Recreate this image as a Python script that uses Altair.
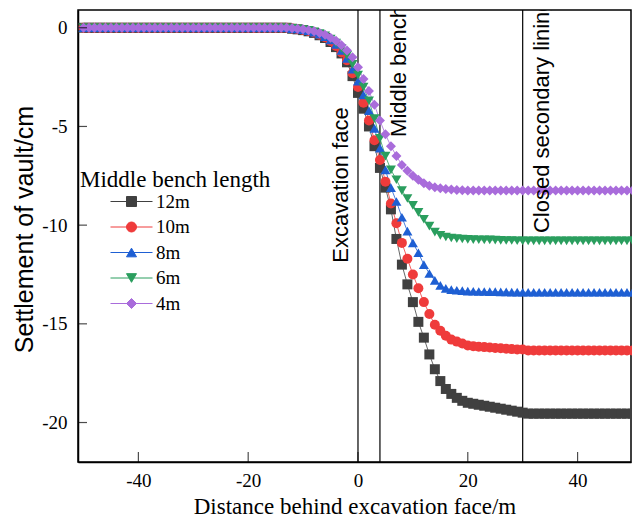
import altair as alt
import pandas as pd

# ---------------- data ----------------
distance = list(range(-50, 51))  # distance behind excavation face (m), 1 m step
series_names = ["12m", "10m", "8m", "6m", "4m"]
series_colors = ["#404040", "#EF3B3B", "#1E5FD3", "#2A9E5E", "#A96CDB"]
series_shapes = ["square", "circle", "triangle-up", "triangle-down", "diamond"]
# legend glyphs: same marker with a short line through it (unit-box SVG paths)
legend_glyphs = [
    "M-4.2,0H4.2M-1,-1H1V1H-1Z",
    "M-4.2,0H4.2M1,0A1,1,0,1,1,-1,0A1,1,0,1,1,1,0Z",
    "M-4.2,0H4.2M0,-0.866L1,0.866H-1Z",
    "M-4.2,0H4.2M0,0.866L1,-0.866H-1Z",
    "M-4.2,0H4.2M-1,0L0,-1L1,0L0,1Z",
]

s12 = [0, 0, 0, 0, 0, 0, 0, 0, 0, 0, 0, 0, 0, 0, 0, 0, 0, 0, 0, 0,
       0, 0, 0, 0, 0, 0, 0, 0, 0, 0, 0, 0, 0, 0, 0, 0, 0, 0,
       -0.05, -0.08, -0.12, -0.18, -0.26, -0.38, -0.52, -0.72, -0.98, -1.3, -1.75, -2.45,
       -3.3, -4.1, -5.0, -6.0, -7.1, -8.1, -9.2, -10.7, -12.0, -13.0, -13.9, -14.9,
       -15.7, -16.55, -17.3, -17.9, -18.3, -18.55, -18.75, -18.9, -19.0, -19.05, -19.1,
       -19.15, -19.2, -19.25, -19.3, -19.35, -19.4, -19.45, -19.5,
       -19.55, -19.55, -19.55, -19.55, -19.55, -19.55, -19.55, -19.55, -19.55, -19.55,
       -19.55, -19.55, -19.55, -19.55, -19.55, -19.55, -19.55, -19.55, -19.55, -19.55]

s10 = [0, 0, 0, 0, 0, 0, 0, 0, 0, 0, 0, 0, 0, 0, 0, 0, 0, 0, 0, 0,
       0, 0, 0, 0, 0, 0, 0, 0, 0, 0, 0, 0, 0, 0, 0, 0, 0, 0,
       -0.04, -0.07, -0.11, -0.16, -0.24, -0.35, -0.48, -0.67, -0.92, -1.25, -1.65, -2.3,
       -3.0, -3.8, -4.7, -5.7, -6.7, -7.8, -8.9, -9.9, -10.9, -11.7, -12.5, -13.2,
       -13.9, -14.5, -15.05, -15.35, -15.6, -15.8, -15.9, -16.0, -16.1, -16.13, -16.16,
       -16.18, -16.2, -16.22, -16.24, -16.26, -16.28, -16.3, -16.3,
       -16.35, -16.35, -16.35, -16.35, -16.35, -16.35, -16.35, -16.35, -16.35, -16.35,
       -16.35, -16.35, -16.35, -16.35, -16.35, -16.35, -16.35, -16.35, -16.35, -16.35]

s8 = [0, 0, 0, 0, 0, 0, 0, 0, 0, 0, 0, 0, 0, 0, 0, 0, 0, 0, 0, 0,
      0, 0, 0, 0, 0, 0, 0, 0, 0, 0, 0, 0, 0, 0, 0, 0, 0, 0,
      -0.04, -0.06, -0.1, -0.15, -0.22, -0.32, -0.45, -0.62, -0.85, -1.15, -1.55, -2.1,
      -2.7, -3.4, -4.2, -5.1, -6.1, -7.2, -8.1, -8.8, -9.6, -10.3, -10.9, -11.4,
      -12.0, -12.45, -12.8, -13.05, -13.2, -13.27, -13.3, -13.32, -13.34, -13.35, -13.36,
      -13.36, -13.37, -13.37, -13.38, -13.38, -13.39, -13.39, -13.4,
      -13.4, -13.4, -13.4, -13.4, -13.4, -13.4, -13.4, -13.4, -13.4, -13.4,
      -13.4, -13.4, -13.4, -13.4, -13.4, -13.4, -13.4, -13.4, -13.4, -13.4]

s6 = [0, 0, 0, 0, 0, 0, 0, 0, 0, 0, 0, 0, 0, 0, 0, 0, 0, 0, 0, 0,
      0, 0, 0, 0, 0, 0, 0, 0, 0, 0, 0, 0, 0, 0, 0, 0, 0, 0,
      -0.03, -0.05, -0.09, -0.13, -0.2, -0.29, -0.41, -0.57, -0.78, -1.05, -1.4, -1.85,
      -2.4, -3.0, -3.7, -4.6, -5.6, -6.5, -7.2, -7.7, -8.25, -8.65, -9.0, -9.35,
      -9.7, -10.05, -10.35, -10.52, -10.6, -10.65, -10.68, -10.7, -10.72, -10.73, -10.74,
      -10.75, -10.75, -10.76, -10.77, -10.78, -10.78, -10.79, -10.8,
      -10.8, -10.8, -10.8, -10.8, -10.8, -10.8, -10.8, -10.8, -10.8, -10.8,
      -10.8, -10.8, -10.8, -10.8, -10.8, -10.8, -10.8, -10.8, -10.8, -10.8]

s4 = [0, 0, 0, 0, 0, 0, 0, 0, 0, 0, 0, 0, 0, 0, 0, 0, 0, 0, 0, 0,
      0, 0, 0, 0, 0, 0, 0, 0, 0, 0, 0, 0, 0, 0, 0, 0, 0, 0,
      -0.03, -0.05, -0.08, -0.12, -0.18, -0.26, -0.36, -0.5, -0.66, -0.88, -1.15, -1.5,
      -2.0, -2.6, -3.2, -3.9, -4.7, -5.4, -6.0, -6.5, -6.95, -7.25, -7.5, -7.7,
      -7.88, -8.0, -8.08, -8.13, -8.17, -8.2, -8.22, -8.23, -8.24, -8.25, -8.25,
      -8.25, -8.25, -8.25, -8.25, -8.25, -8.25, -8.25, -8.25,
      -8.25, -8.25, -8.25, -8.25, -8.25, -8.25, -8.25, -8.25, -8.25, -8.25,
      -8.25, -8.25, -8.25, -8.25, -8.25, -8.25, -8.25, -8.25, -8.25, -8.25]

x_tick_values = [-40, -20, 0, 20, 40]
y_tick_values = [0, -5, -10, -15, -20]
x_domain = [-51, 49.73]
y_domain = [-22, 0.9]

marker_lines = [0, 4, 30]
left_notes = pd.DataFrame({"x": [0], "y": [-11.9], "label": ["Excavation face"]})
right_notes = pd.DataFrame({"x": [4, 30], "y": [-5.53, -10.4],
                            "label": ["Middle bench", "Closed secondary lining"]})

# ---------------- build table ----------------
rows = []
for name, vals in zip(series_names, [s12, s10, s8, s6, s4]):
    for d, v in zip(distance, vals):
        rows.append({"x": d, "y": v, "series": name})
df = pd.DataFrame(rows)

SERIF = "Liberation Serif"
SANS = "Liberation Sans"

x_scale = alt.Scale(domain=x_domain, nice=False, zero=False)
y_scale = alt.Scale(domain=y_domain, nice=False, zero=False)

x_axis = alt.Axis(values=x_tick_values, title="Distance behind excavation face/m",
                  grid=False, ticks=False, tickSize=0, labelPadding=9,
                  labelFont=SERIF, labelFontSize=19, labelColor="black",
                  labelExpr="'' + datum.value",
                  titleFont=SERIF, titleFontSize=23, titleFontWeight="normal",
                  titleColor="black", titleBaseline="alphabetic", titleY=51,
                  domainColor="black", domainWidth=1.5)
y_axis = alt.Axis(values=y_tick_values, title="Settlement of vault/cm",
                  grid=False, ticks=False, tickSize=0, labelPadding=11,
                  labelFont=SERIF, labelFontSize=19, labelColor="black",
                  labelExpr="'' + datum.value",
                  titleFont=SANS, titleFontSize=25, titleFontWeight="normal",
                  titleColor="black", titleAngle=270, titleBaseline="alphabetic",
                  titleX=-46, titleY=219, titleAlign="center",
                  domainColor="black", domainWidth=1.5)

legend = alt.Legend(title="Middle bench length", orient="none", legendX=2, legendY=159,
                    titleFont=SERIF, titleFontSize=23, titleFontWeight="normal",
                    titleColor="black", titlePadding=0, titleLimit=400,
                    labelFont=SERIF, labelFontSize=19, labelColor="black",
                    symbolOffset=42, labelOffset=15, rowPadding=5.5,
                    symbolSize=100, symbolStrokeWidth=1, symbolOpacity=1, padding=0)

X = alt.X("x:Q", scale=x_scale, axis=x_axis)
Y = alt.Y("y:Q", scale=y_scale, axis=y_axis)

vlines = alt.Chart(pd.DataFrame({"x": marker_lines})).mark_rule(
    color="black", strokeWidth=1.2
).encode(x=X)

# thin connecting lines, one layer per series (fixed colour, no legend)
line_layers = []
for name, col in zip(series_names, series_colors):
    line_layers.append(
        alt.Chart(df).transform_filter(alt.datum.series == name)
        .mark_line(strokeWidth=1, opacity=0.8, color=col, clip=True)
        .encode(x=X, y=Y)
    )

points = alt.Chart(df).mark_point(filled=True, size=100, opacity=1).encode(
    x=X, y=Y,
    color=alt.Color("series:N", scale=alt.Scale(domain=series_names, range=series_colors),
                    legend=None),
    shape=alt.Shape("series:N", scale=alt.Scale(domain=series_names, range=series_shapes),
                    legend=None),
)

# legend-only layer (no rows drawn): marker with a line through it, as in the reference
legend_layer = alt.Chart(df).transform_filter("false").mark_point(
    filled=True, size=100, opacity=1
).encode(
    x=X, y=Y,
    fill=alt.Fill("series:N", scale=alt.Scale(domain=series_names, range=series_colors),
                  legend=legend),
    stroke=alt.Stroke("series:N", scale=alt.Scale(domain=series_names, range=series_colors),
                      legend=legend),
    shape=alt.Shape("series:N", scale=alt.Scale(domain=series_names, range=legend_glyphs),
                    legend=legend),
)

xticks = alt.Chart(pd.DataFrame({"x": x_tick_values})).mark_tick(
    clip=True, orient="vertical", size=20, thickness=1.2, color="black"
).encode(x=X, y=alt.YDatum(datum=y_domain[0], scale=y_scale, axis=y_axis))

yticks = alt.Chart(pd.DataFrame({"y": y_tick_values})).mark_tick(
    clip=True, orient="horizontal", size=18, thickness=1.2, color="black"
).encode(y=Y, x=alt.XDatum(datum=x_domain[0], scale=x_scale, axis=x_axis))

notes_left = alt.Chart(left_notes).mark_text(
    angle=270, align="left", baseline="alphabetic", dy=-10,
    font=SANS, fontSize=22, color="black", clip=True
).encode(x=X, y=Y, text="label:N")

notes_right = alt.Chart(right_notes).mark_text(
    angle=270, align="left", baseline="top", dy=9,
    font=SANS, fontSize=22, color="black", clip=True
).encode(x=X, y=Y, text="label:N")

chart = alt.layer(
    vlines, *line_layers, points, legend_layer, xticks, yticks, notes_left, notes_right
).resolve_scale(
    color="independent", shape="independent", fill="independent", stroke="independent"
).properties(
    width=553, height=452,
    padding={"left": 70, "top": 2, "right": 1, "bottom": 56},
    autosize=alt.AutoSizeParams(type="none"),
    background="white",
).configure_view(stroke="black", strokeWidth=1.5)

chart.save("out.html", embed_options={"renderer": "svg", "actions": False})
